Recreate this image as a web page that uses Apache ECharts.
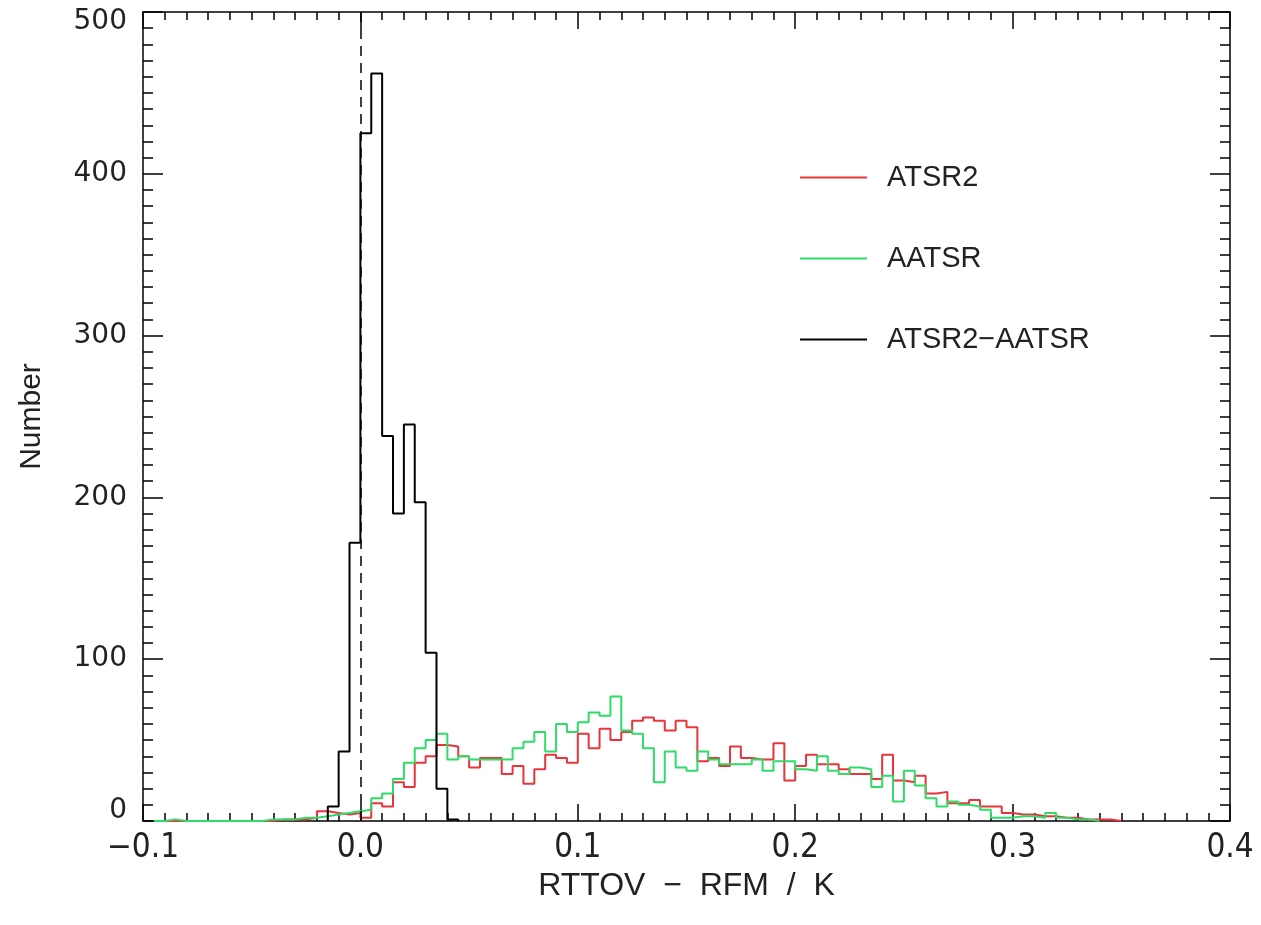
<!DOCTYPE html>
<html>
<head>
<meta charset="utf-8">
<title>RTTOV − RFM histograms</title>
<script src="https://cdn.jsdelivr.net/npm/echarts@6/dist/echarts.min.js"></script>
<style>
  html, body { margin: 0; padding: 0; background: #fff; }
  #chart { width: 1261px; height: 925px; }
</style>
</head>
<body>
<div id="chart"></div>
<script>
// Histogram bins: width 0.005 K, left edge of the first bin given per series
const binWidth = 0.005;

// ATSR2 and AATSR share the same bin start
const rgStart = -0.095;
const atsr2 = [
  0, 0, 0, 0, 0, 0, 0, 0, 0, 0,          // -0.095 .. -0.050
  0, 1, 1, 1, 2, 6, 5, 4, 5, 2,          // -0.045 .. 0.000
  11, 9, 24, 21, 36, 40, 47, 46, 40, 33, // 0.005 .. 0.050
  39, 39, 29, 34, 23, 32, 41, 39, 36, 54,// 0.055 .. 0.100
  45, 57, 50, 55, 62, 64, 62, 56, 62, 58,// 0.105 .. 0.150
  37, 39, 34, 46, 39, 38, 38, 48, 25, 34,// 0.155 .. 0.200
  41, 35, 35, 32, 29, 29, 26, 41, 25, 24,// 0.205 .. 0.250
  28, 17, 18, 11, 11, 13, 9, 9, 5, 4,    // 0.255 .. 0.300
  4, 3, 3, 2, 2, 1, 1, 1, 0              // 0.305 .. 0.345
];
const aatsr = [
  0, 1, 0, 0, 0, 0, 0, 0, 0, 0,          // -0.095 .. -0.050
  1, 1, 1, 2, 2, 3, 4, 5, 6, 7,          // -0.045 .. 0.000
  14, 17, 26, 36, 45, 50, 54, 38, 40, 38,// 0.005 .. 0.050
  38, 38, 38, 45, 49, 55, 43, 60, 55, 61,// 0.055 .. 0.100
  67, 65, 77, 56, 54, 45, 24, 43, 33, 31,// 0.105 .. 0.150
  43, 38, 35, 35, 35, 38, 31, 37, 37, 32,// 0.155 .. 0.200
  31, 40, 31, 29, 33, 32, 21, 28, 12, 31,// 0.205 .. 0.250
  22, 14, 9, 12, 10, 9, 7, 2, 2, 3,      // 0.255 .. 0.300
  3, 2, 5, 2, 1, 1, 0                    // 0.305 .. 0.335
];

// ATSR2 − AATSR difference
const diffStart = -0.015;
const atsr2MinusAatsr = [9, 43, 172, 425, 462, 238, 190, 245, 197, 104, 20, 1];

// Axis ticks
const xTicks = [-0.1, 0.0, 0.1, 0.2, 0.3, 0.4];
const yTicks = [0, 100, 200, 300, 400, 500];

// Turn bin counts into an outlined step curve
function stepData(start, counts) {
  const pts = [[start, 0]];
  counts.forEach((c, i) => pts.push([start + i * binWidth, c]));
  const end = start + counts.length * binWidth;
  pts.push([end, counts[counts.length - 1]]);
  pts.push([end, 0]);
  return pts;
}

function fmtX(v) {
  const r = Math.round(v * 10) / 10;
  return (r < 0 ? '\u2212' : '') + Math.abs(r).toFixed(1);
}

const FONT = 'Liberation Sans';
const NARROW = '"Liberation Sans Narrow", "DejaVu Sans Condensed", "Liberation Sans"';
const WIDE = '"DejaVu Sans"';
const INK = '#222';

const chart = echarts.init(document.getElementById('chart'), null, { renderer: 'canvas' });

const xBase = {
  type: 'value',
  min: xTicks[0],
  max: xTicks[xTicks.length - 1],
  interval: 0.1,
  axisLine: { show: true, onZero: false, lineStyle: { color: '#000', width: 1.5 } },
  axisTick: { show: true, inside: true, length: 17, lineStyle: { color: '#000', width: 1.5 } },
  minorTick: { show: true, splitNumber: 10, length: 8, lineStyle: { color: '#000', width: 1.5 } },
  splitLine: { show: false },
  minorSplitLine: { show: false }
};
const yBase = {
  type: 'value',
  min: yTicks[0],
  max: yTicks[yTicks.length - 1],
  interval: 100,
  axisLine: { show: true, onZero: false, lineStyle: { color: '#000', width: 1.5 } },
  axisTick: { show: true, inside: true, length: 20, lineStyle: { color: '#000', width: 1.5 } },
  minorTick: { show: true, splitNumber: 10, length: 10, lineStyle: { color: '#000', width: 1.5 } },
  splitLine: { show: false },
  minorSplitLine: { show: false }
};

chart.setOption({
  backgroundColor: '#fff',
  animation: false,
  grid: { left: 143, right: 31, top: 12, bottom: 104, containLabel: false },
  legend: {
    orient: 'vertical',
    left: 795,
    top: 157,
    icon: 'rect',
    itemWidth: 67,
    itemHeight: 2,
    itemGap: 50,
    textStyle: { fontFamily: FONT, fontSize: 29, color: INK, lineHeight: 31, padding: [0, 0, 0, 15] },
    data: ['ATSR2', 'AATSR', 'ATSR2\u2212AATSR']
  },
  xAxis: [
    Object.assign({}, xBase, {
      position: 'bottom',
      name: 'RTTOV  \u2212  RFM  /  K',
      nameLocation: 'middle',
      nameGap: 42,
      nameTextStyle: { fontFamily: FONT, fontSize: 32, color: INK },
      axisLabel: { show: true, margin: 11, fontFamily: NARROW, fontSize: 33, color: INK, formatter: fmtX }
    }),
    Object.assign({}, xBase, { position: 'top', axisLabel: { show: false } })
  ],
  yAxis: [
    Object.assign({}, yBase, {
      position: 'left',
      name: 'Number',
      nameLocation: 'middle',
      nameGap: 96,
      nameTextStyle: { fontFamily: FONT, fontSize: 30, color: INK },
      axisLabel: {
        show: true, margin: 16, fontFamily: WIDE, fontSize: 28, color: INK,
        formatter: v => v === yTicks[yTicks.length - 1] ? '{t|' + v + '}' : (v === yTicks[0] ? '{b|' + v + '}' : String(v)),
        rich: {
          t: { fontFamily: WIDE, fontSize: 28, color: INK, padding: [20, 0, 0, 0] },
          b: { fontFamily: WIDE, fontSize: 28, color: INK, padding: [0, 0, 20, 0] }
        }
      }
    }),
    Object.assign({}, yBase, { position: 'right', axisLabel: { show: false } })
  ],
  series: [
    {
      name: 'ATSR2',
      type: 'line',
      step: 'end',
      symbol: 'none',
      color: '#e8343a',
      lineStyle: { color: '#e8343a', width: 2 },
      data: stepData(rgStart, atsr2),
      z: 3
    },
    {
      name: 'AATSR',
      type: 'line',
      step: 'end',
      symbol: 'none',
      color: '#2fdc6a',
      lineStyle: { color: '#2fdc6a', width: 2 },
      data: stepData(rgStart, aatsr),
      z: 4
    },
    {
      name: 'ATSR2\u2212AATSR',
      type: 'line',
      step: 'end',
      symbol: 'none',
      color: '#000',
      lineStyle: { color: '#000', width: 2 },
      data: stepData(diffStart, atsr2MinusAatsr),
      z: 5,
      markLine: {
        silent: true,
        symbol: 'none',
        label: { show: false },
        lineStyle: { color: '#000', width: 1.5, type: [10, 7] },
        data: [{ xAxis: 0 }]
      }
    }
  ]
});
</script>
</body>
</html>
